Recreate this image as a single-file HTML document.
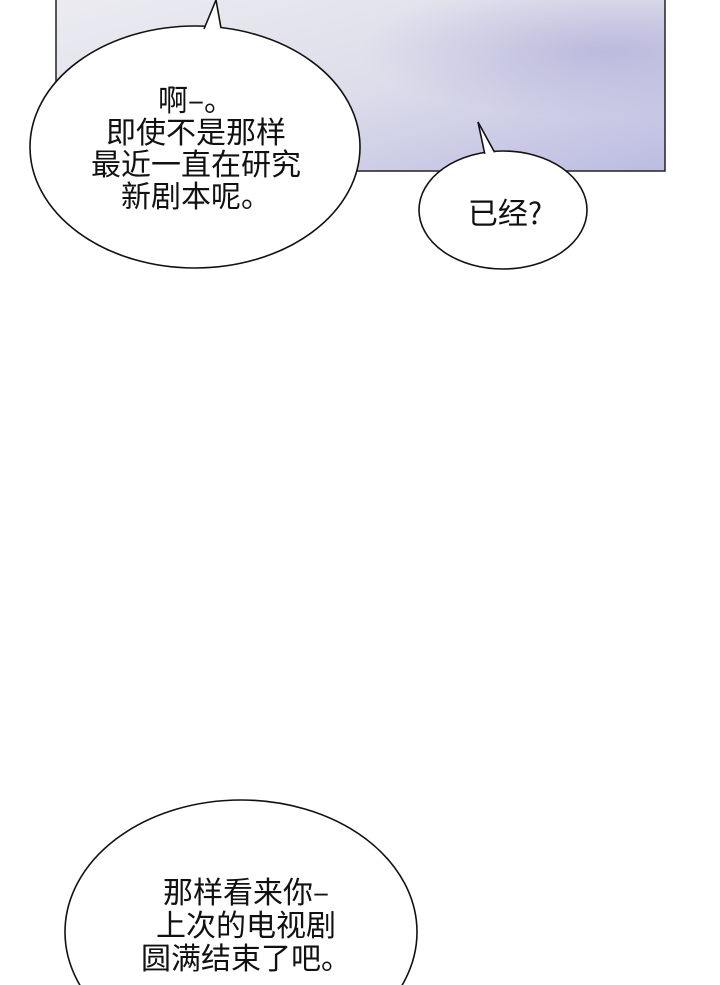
<!DOCTYPE html>
<html><head><meta charset="utf-8"><style>
html,body{margin:0;padding:0;background:#fff;width:720px;height:985px;overflow:hidden;}
svg{display:block}
text{font-family:"Noto Sans CJK SC","Liberation Sans",sans-serif;font-size:30px;fill:#111;text-anchor:middle}
</style></head><body>
<svg width="720" height="985" viewBox="0 0 720 985" xmlns="http://www.w3.org/2000/svg">
<defs>
<linearGradient id="g" x1="0" y1="0" x2="1" y2="1">
<stop offset="0" stop-color="#ebebf1"/>
<stop offset="0.5" stop-color="#dedeeb"/>
<stop offset="1" stop-color="#bcbce2"/>
</linearGradient>
<radialGradient id="r" cx="0.9" cy="0.3" r="0.4">
<stop offset="0" stop-color="#b0aed8" stop-opacity="0.7"/>
<stop offset="1" stop-color="#b0aed8" stop-opacity="0"/>
</radialGradient>
</defs>
<rect x="56" y="-2" width="609" height="173" fill="url(#g)" stroke="#222" stroke-width="1.5"/>
<rect x="57" y="0" width="607" height="170" fill="url(#r)"/>
<ellipse cx="195" cy="147" rx="165" ry="121" fill="#fff" stroke="#111" stroke-width="1.6"/>
<path d="M204,29 L216,0 L221,28" fill="#fff" stroke="#111" stroke-width="1.6"/>
<path d="M203,30 L222,29 L222,34 L203,34Z" fill="#fff"/>
<text x="196" y="111">啊–。</text>
<text x="196" y="143">即使不是那样</text>
<text x="196" y="175">最近一直在研究</text>
<text x="196" y="207">新剧本呢。</text>
<ellipse cx="503" cy="210" rx="84" ry="59" fill="#fff" stroke="#111" stroke-width="1.6"/>
<path d="M485,155 L478,122 L495,153" fill="#fff" stroke="#111" stroke-width="1.6"/>
<path d="M484,154 L497,152 L497,158 L484,158Z" fill="#fff"/>
<text x="505" y="224">已经?</text>
<ellipse cx="241" cy="932" rx="176" ry="132" fill="#fff" stroke="#111" stroke-width="1.6"/>
<text x="246" y="903">那样看来你–</text>
<text x="246" y="936">上次的电视剧</text>
<text x="246" y="969">圆满结束了吧。</text>
</svg>
</body></html>
